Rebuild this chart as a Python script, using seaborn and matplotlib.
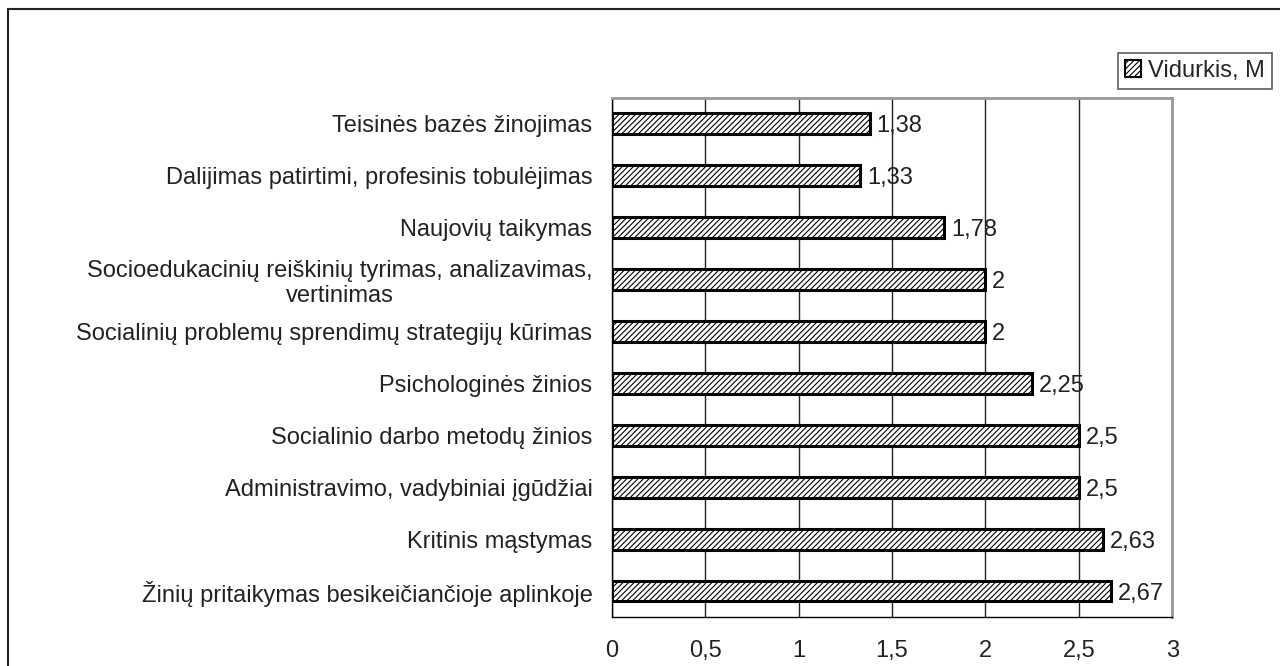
import numpy as np
import pandas as pd
import matplotlib
matplotlib.use("Agg")
import matplotlib.pyplot as plt
import seaborn as sns
from matplotlib.lines import Line2D
from matplotlib.patches import Patch

# %% data
categories = ["Teisinės bazės žinojimas",
              "Dalijimas patirtimi, profesinis tobulėjimas",
              "Naujovių taikymas",
              "Socioedukacinių reiškinių tyrimas, analizavimas,\nvertinimas",
              "Socialinių problemų sprendimų strategijų kūrimas",
              "Psichologinės žinios",
              "Socialinio darbo metodų žinios",
              "Administravimo, vadybiniai įgūdžiai",
              "Kritinis mąstymas",
              "Žinių pritaikymas besikeičiančioje aplinkoje"]
means = [1.38, 1.33, 1.78, 2, 2, 2.25, 2.5, 2.5, 2.63, 2.67]
xticks = [0, 0.5, 1, 1.5, 2, 2.5, 3]
xticklabels = ["0", "0,5", "1", "1,5", "2", "2,5", "3"]

df = pd.DataFrame({"Kompetencija": categories, "Vidurkis": means})

# %% style
sns.set_style("white")
plt.rcParams["font.family"] = ["Liberation Sans", "DejaVu Sans"]
plt.rcParams["hatch.color"] = "#333333"
plt.rcParams["hatch.linewidth"] = 0.8
FS = 17

fig = plt.figure(figsize=(12.8, 6.66), dpi=100)
ax = fig.add_axes([0.478, 0.0736, 0.4378, 0.7794])

sns.barplot(data=df, y="Kompetencija", x="Vidurkis", orient="h", ax=ax,
            color="white", edgecolor="black", linewidth=2.2, width=0.4,
            hatch="//////")

for cont in ax.containers:
    labs = ax.bar_label(cont, labels=[f"{v:g}".replace(".", ",") for v in means],
                        padding=5, fontsize=FS, color="#222222")
    for t in labs:
        t.set_va("center_baseline")

ax.set_xlim(0, 3)
ax.set_ylim(len(categories) - 0.5, -0.5)
ax.set_xticks(xticks)
ax.set_xticklabels(xticklabels, fontsize=FS, color="#222222")
ax.set_yticks(range(len(categories)))
ax.set_yticklabels(categories, fontsize=FS, color="#222222", multialignment="center")
ax.tick_params(axis="y", length=0, pad=14)
ax.set_yticks(np.arange(-0.5, len(categories)), minor=True)
ax.tick_params(axis="y", which="minor", length=6, width=1, direction="out", color="black")
ax.tick_params(axis="x", length=6, width=1, direction="out", color="black", pad=10.5)
ax.set_xlabel("")
ax.set_ylabel("")

ax.xaxis.grid(True, color="#222222", linewidth=1)
ax.set_axisbelow(True)
for side in ["left", "bottom"]:
    ax.spines[side].set_color("black")
    ax.spines[side].set_linewidth(1)
for side in ["top", "right"]:
    ax.spines[side].set_color("#999999")
    ax.spines[side].set_linewidth(2)

# legend
handle = Patch(facecolor="white", edgecolor="black", hatch="//////", linewidth=1.5)
leg = fig.legend([handle], ["Vidurkis, M"], loc="upper right",
                 bbox_to_anchor=(0.994, 0.921), fontsize=FS, frameon=True,
                 fancybox=False, handlelength=0.7, handleheight=0.7,
                 handletextpad=0.3, borderpad=0.3, borderaxespad=0)
leg.get_frame().set_edgecolor("#333333")
leg.get_frame().set_linewidth(1.2)

# outer frame (left and top only visible)
fig.add_artist(Line2D([8 / 1280, 8 / 1280], [0, 1 - 9 / 666], transform=fig.transFigure,
                      color="#222222", linewidth=1.5))
fig.add_artist(Line2D([8 / 1280, 1], [1 - 9 / 666, 1 - 9 / 666], transform=fig.transFigure,
                      color="#222222", linewidth=1.5))

fig.savefig("out.png", dpi=100)
